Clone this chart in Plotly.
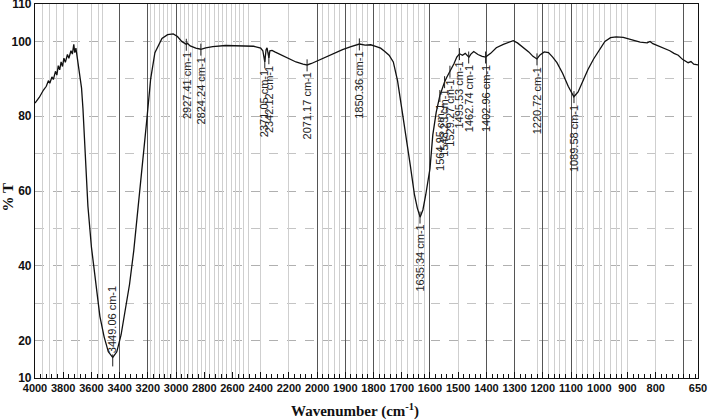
import plotly.graph_objects as go

# ---------------- data ----------------
wavenumber = [4000, 3970, 3940, 3920, 3905, 3895, 3880, 3870, 3855, 3845, 3835, 3825,
              3815, 3805, 3795, 3785, 3770, 3760, 3745, 3735, 3725, 3718, 3710, 3700,
              3690, 3680, 3670, 3660, 3645, 3625, 3600, 3570, 3540, 3510, 3480, 3449,
              3420, 3390, 3360, 3330, 3300, 3270, 3240, 3210, 3180, 3150, 3100, 3060,
              3020, 2990, 2960, 2940, 2927, 2920, 2900, 2860, 2824, 2790, 2740, 2650,
              2550, 2450, 2400, 2385, 2371, 2362, 2355, 2342, 2335, 2320, 2300, 2250,
              2200, 2150, 2100, 2071, 2040, 2000, 1970, 1940, 1910, 1880, 1850, 1830,
              1810, 1790, 1775, 1760, 1745, 1730, 1715, 1700, 1685, 1670, 1655, 1645,
              1635, 1625, 1615, 1600, 1590, 1578, 1565, 1555, 1548, 1540, 1529, 1515,
              1505, 1495, 1485, 1475, 1462, 1455, 1445, 1430, 1415, 1403, 1385, 1365,
              1340, 1320, 1305, 1290, 1270, 1250, 1235, 1221, 1210, 1195, 1180, 1165,
              1150, 1130, 1110, 1090, 1075, 1060, 1040, 1020, 1000, 980, 960, 940,
              915, 890, 870, 855, 830, 820, 810, 790, 770, 750, 735, 720, 705, 695,
              685, 675, 665, 650]
transmittance = [83.5, 85.0, 87.0, 88.0, 89.5, 88.8, 90.5, 89.8, 92.0, 91.0, 93.5, 92.4,
                 94.5, 93.3, 95.5, 94.4, 96.5, 95.5, 97.5, 96.6, 99.2, 97.0, 98.2, 95.5,
                 93.0, 90.0, 87.5, 82.0, 72.0, 56.0, 45.0, 35.0, 26.5, 21.0, 17.0, 15.5,
                 17.0, 21.5, 28.0, 35.0, 44.0, 55.0, 66.0, 78.0, 90.0, 97.0, 100.8, 101.8,
                 102.0, 101.3, 100.0, 99.4, 99.2, 99.5, 98.8, 98.2, 97.9, 98.3, 98.6, 98.9,
                 98.9, 98.7, 98.2, 97.5, 94.5, 97.8, 98.3, 95.6, 97.5, 97.6, 97.2, 96.3,
                 95.3, 94.5, 93.9, 93.7, 94.1, 94.8, 95.7, 96.9, 97.8, 98.6, 99.3, 99.0,
                 99.1, 98.6, 98.2, 97.3, 96.3, 94.5, 89.5, 82.0, 75.0, 67.0, 59.0, 55.5,
                 53.0, 55.0, 59.0, 66.0, 75.0, 81.0, 85.5, 88.0, 89.2, 90.5, 92.0, 94.0,
                 95.8, 96.7, 96.3, 96.8, 95.8, 96.6, 97.3, 96.5, 96.0, 95.8, 96.8, 98.3,
                 99.2, 99.8, 100.2, 99.6, 98.5, 97.2, 96.0, 95.3, 96.4, 97.2, 97.0, 95.8,
                 94.3, 91.5, 88.0, 85.2, 86.5, 89.0, 92.5, 95.3, 97.8, 100.0, 101.0, 101.2,
                 101.1, 100.6, 100.1, 99.8, 99.6, 100.0, 99.4, 98.8, 98.1, 97.5, 96.8, 96.3,
                 95.2, 94.8, 94.3, 94.6, 93.9, 93.7]

peak_wn = [3449.06, 2927.41, 2824.24, 2371.05, 2342.12, 2071.17, 1850.36, 1635.34,
           1564.95, 1548.23, 1529.27, 1495.53, 1462.74, 1402.96, 1220.72, 1089.58]
peak_T = [15.5, 99.2, 97.9, 94.5, 95.6, 93.7, 99.3, 53.0,
          85.5, 89.2, 92.0, 96.7, 95.8, 95.8, 95.3, 85.2]
peak_up = [True] + [False] * 15

tick_wn = [4000, 3800, 3600, 3400, 3200, 3000, 2800, 2600, 2400, 2200, 2000,
           1900, 1800, 1700, 1600, 1500, 1400, 1300, 1200, 1100, 1000, 900, 800, 650]
y_ticks = [10, 20, 40, 60, 80, 100, 110]

dark_grid_wn = [3400, 3200, 3000, 2000, 1900, 1800, 1600, 1400, 1300, 1200, 1100, 700]
faint_grid_wn = ([3950, 3900, 3850, 3800, 3700, 3600, 3550, 3520]
                 + list(range(3180, 2480, -30)) + [2400, 2200]
                 + list(range(1980, 1600, -20)) + [1700, 1500]
                 + list(range(1220, 890, -20)) + [800])


# piecewise wavenumber scale: 2x compression above 2000 cm-1
def u(x):
    return x if x <= 2000 else 2000 + (x - 2000) / 2.0


X_RANGE = [u(4000), u(650)]
LABEL_FONT = "Liberation Sans, Arial"

fig = go.Figure()
fig.add_trace(go.Scatter(x=[u(v) for v in wavenumber], y=transmittance, mode="lines",
                         line=dict(color="#111111", width=1.3), showlegend=False,
                         hoverinfo="skip"))
# dummy traces to activate the grid-only overlay axes
fig.add_trace(go.Scatter(x=[None], y=[None], xaxis="x2", showlegend=False, hoverinfo="skip"))
fig.add_trace(go.Scatter(x=[None], y=[None], xaxis="x3", showlegend=False, hoverinfo="skip"))

for wn, T, up in zip(peak_wn, peak_T, peak_up):
    txt = f"{wn:.2f} cm-1"
    fig.add_annotation(x=u(wn), y=(T - 2.4) if up else (T + 1.5), xref="x", yref="y",
                       text=txt, textangle=-90, showarrow=True, arrowhead=0,
                       arrowwidth=1, arrowcolor="#222222", ax=0, ay=-47 if up else 47,
                       font=dict(family="Liberation Sans, Arial", size=11, color="#222222"))

fig.add_annotation(x=-0.04, y=0.484, xref="paper", yref="paper", text="<b>% T</b>",
                   textangle=-90, showarrow=False, xanchor="center", yanchor="middle",
                   font=dict(family="Liberation Serif, Times New Roman", size=15, color="#111111"))
fig.add_annotation(x=0.483, y=-0.088, xref="paper", yref="paper",
                   text="<b>Wavenumber (cm<sup>-1</sup>)</b>", showarrow=False,
                   xanchor="center", yanchor="middle",
                   font=dict(family="Liberation Serif, Times New Roman", size=15, color="#111111"))

fig.update_layout(
    width=708, height=420,
    margin=dict(l=35, r=10, t=4, b=42, autoexpand=False),
    paper_bgcolor="white", plot_bgcolor="white",
    xaxis=dict(range=X_RANGE, autorange=False, tickmode="array", automargin=False,
               tickvals=[u(v) for v in tick_wn], ticktext=[str(v) for v in tick_wn],
               tickangle=0, ticklabeloverflow="allow",
               ticks="inside", ticklen=6, tickcolor="#111111", tickwidth=1,
               showgrid=False, zeroline=False, showline=True, linecolor="#111111",
               linewidth=1.2, mirror=True,
               tickfont=dict(family=LABEL_FONT, size=11, color="#111111", weight="bold"),
               minor=dict(tick0=2000, dtick=20, ticks="inside", ticklen=3.5,
                          tickcolor="#111111", tickwidth=1, showgrid=False)),
    xaxis2=dict(range=X_RANGE, autorange=False, overlaying="x", anchor="y", automargin=False,
                tickmode="array", tickvals=[u(v) for v in faint_grid_wn],
                showticklabels=False, ticks="", showgrid=True, gridcolor="#cfcfcf",
                gridwidth=1, zeroline=False, showline=False),
    xaxis3=dict(range=X_RANGE, autorange=False, overlaying="x", anchor="y", automargin=False,
                tickmode="array", tickvals=[u(v) for v in dark_grid_wn],
                showticklabels=False, ticks="", showgrid=True, gridcolor="#555555",
                gridwidth=1, zeroline=False, showline=False),
    yaxis=dict(range=[10, 110], autorange=False, tickmode="array", tickvals=y_ticks,
               automargin=False, ticklabeloverflow="allow",
               ticks="", showgrid=True, gridcolor="#b0b0b0", griddash="dash", gridwidth=1,
               zeroline=False, showline=True, linecolor="#111111", linewidth=1.2,
               mirror=True,
               tickfont=dict(family=LABEL_FONT, size=12, color="#111111", weight="bold"),
               minor=dict(tickmode="array", tickvals=[30, 50, 70, 90], showgrid=True,
                          gridcolor="#c4c4c4", griddash="dash", gridwidth=1, ticks="")),
)

fig.write_html("out.html", config={"displayModeBar": False},
               post_script="document.body.style.margin='0';")
